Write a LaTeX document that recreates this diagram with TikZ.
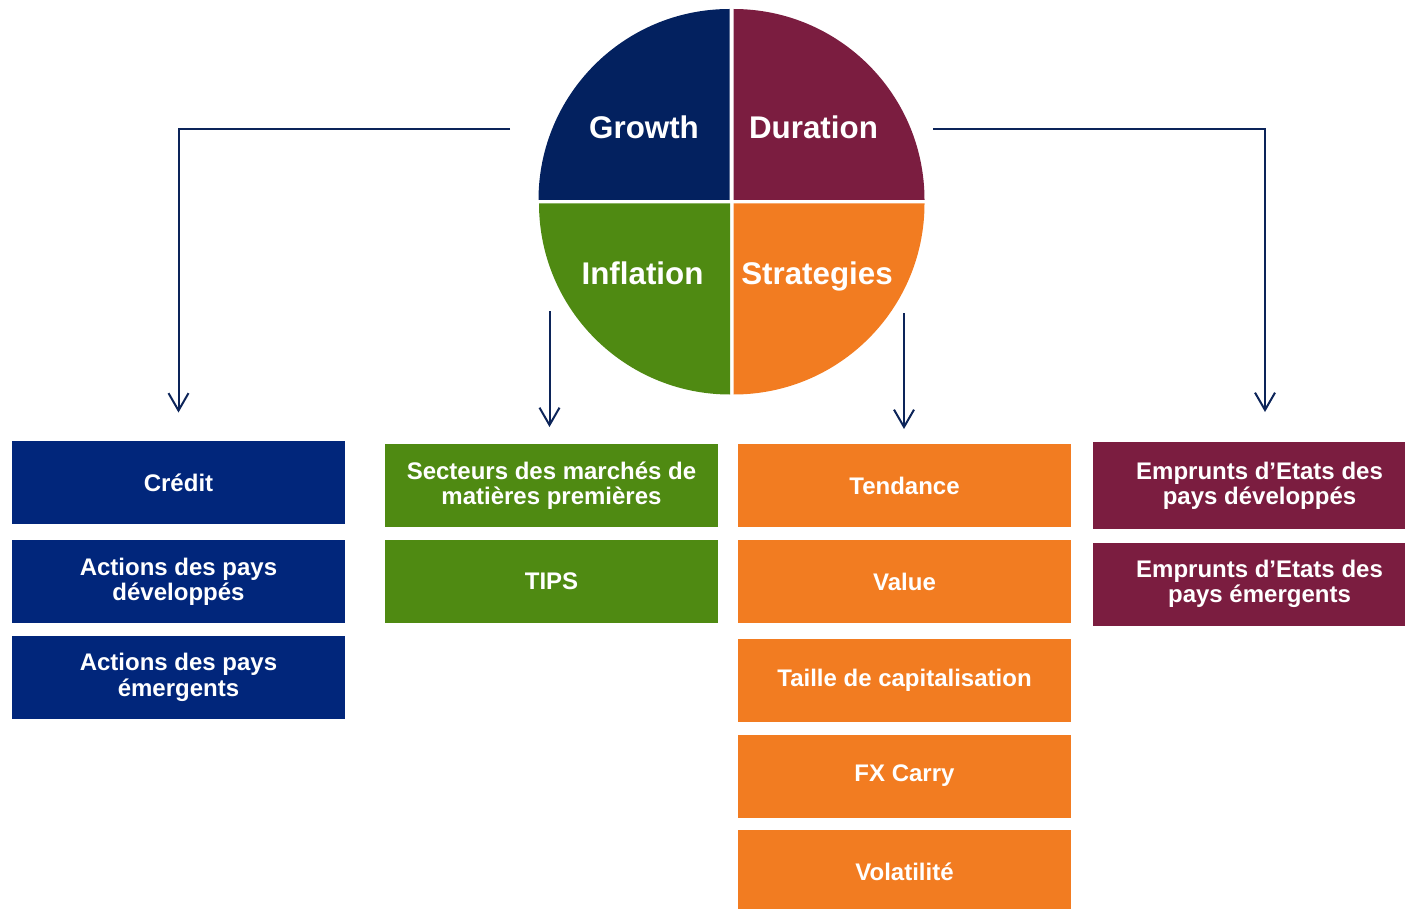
\documentclass[tikz,border=0pt]{standalone}
\usepackage{fontspec}
\setmainfont{Liberation Sans}
\usetikzlibrary{arrows.meta}
\definecolor{navyq}{HTML}{03215F}
\definecolor{navyb}{HTML}{01267B}
\definecolor{wine}{HTML}{7B1D40}
\definecolor{leaf}{HTML}{4F8A12}
\definecolor{tang}{HTML}{F27C21}
\definecolor{linec}{HTML}{0C2459}

\begin{document}
\begin{tikzpicture}[x=0.75pt,y=-0.75pt,
  quad/.style={font=\fontsize{23.5}{26}\selectfont\bfseries, text=white, anchor=base, inner sep=0},
  cell/.style={minimum width=249.75pt, minimum height=62.25pt, inner sep=0, text=white,
               align=center, font=\fontsize{18}{19}\selectfont\bfseries},
  conn/.style={draw=linec, line width=1.5pt, -{Straight Barb[length=13pt,width=15pt]}}]
\clip (0,0) rectangle (1405,909);

% four quadrants of the central disc
\fill[navyq] (729.5,200) -- ++(-191,0) arc[start angle=180,end angle=270,radius=191] -- cycle;
\fill[wine]  (733.5,200) -- ++(0,-191) arc[start angle=270,end angle=360,radius=191] -- cycle;
\fill[tang]  (733.5,203.5) -- ++(191,0) arc[start angle=0,end angle=90,radius=191] -- cycle;
\fill[leaf]  (730,203.5) -- ++(0,191) arc[start angle=90,end angle=180,radius=191] -- cycle;

\node[quad] (growth)     at (644,139)   {Growth};
\node[quad] (duration)   at (813.5,139) {Duration};
\node[quad] (inflation)  at (642.5,284) {Inflation};
\node[quad] (strategies) at (817,284)   {Strategies};

% Growth column
\node[cell, fill=navyb] (credit) at (178.5,482.5) {Crédit};
\node[cell, fill=navyb] (actdev) at (178.5,581.5) {Actions des pays\\développés};
\node[cell, fill=navyb] (actem)  at (178.5,677.5) {Actions des pays\\émergents};

% Inflation column
\node[cell, fill=leaf] (secteurs) at (551.5,485.5) {Secteurs des marchés de\\matières premières};
\node[cell, fill=leaf] (tips)     at (551.5,581.5) {TIPS};

% Strategies column
\node[cell, fill=tang] (tendance) at (904.5,485.5) {Tendance};
\node[cell, fill=tang] (value)    at (904.5,581.5) {Value};
\node[cell, fill=tang] (taille)   at (904.5,680)   {Taille de capitalisation};
\node[cell, fill=tang] (fxcarry)  at (904.5,776)   {FX Carry};
\node[cell, fill=tang] (vol)      at (904.5,871.5) {Volatilité};

% Duration column
\node[cell, fill=wine, minimum height=65pt] (empdev) at (1259.5,485.5) {Emprunts d’Etats des\\pays développés};
\node[cell, fill=wine] (empem) at (1259.5,584) {Emprunts d’Etats des\\pays émergents};

% connectors
\coordinate (lstart) at (510,129);
\coordinate (ltip)   at (178.5,412.5);
\coordinate (rstart) at (933,129);
\coordinate (rtip)   at (1265,412);
\coordinate (istart) at (549.5,311);
\coordinate (itip)   at (549.5,427);
\coordinate (sstart) at (904,313);
\coordinate (stip)   at (904,429);

\draw[conn] (lstart) -| (ltip);
\draw[conn] (rstart) -| (rtip);
\draw[conn] (istart) -- (itip);
\draw[conn] (sstart) -- (stip);
\end{tikzpicture}
\end{document}
